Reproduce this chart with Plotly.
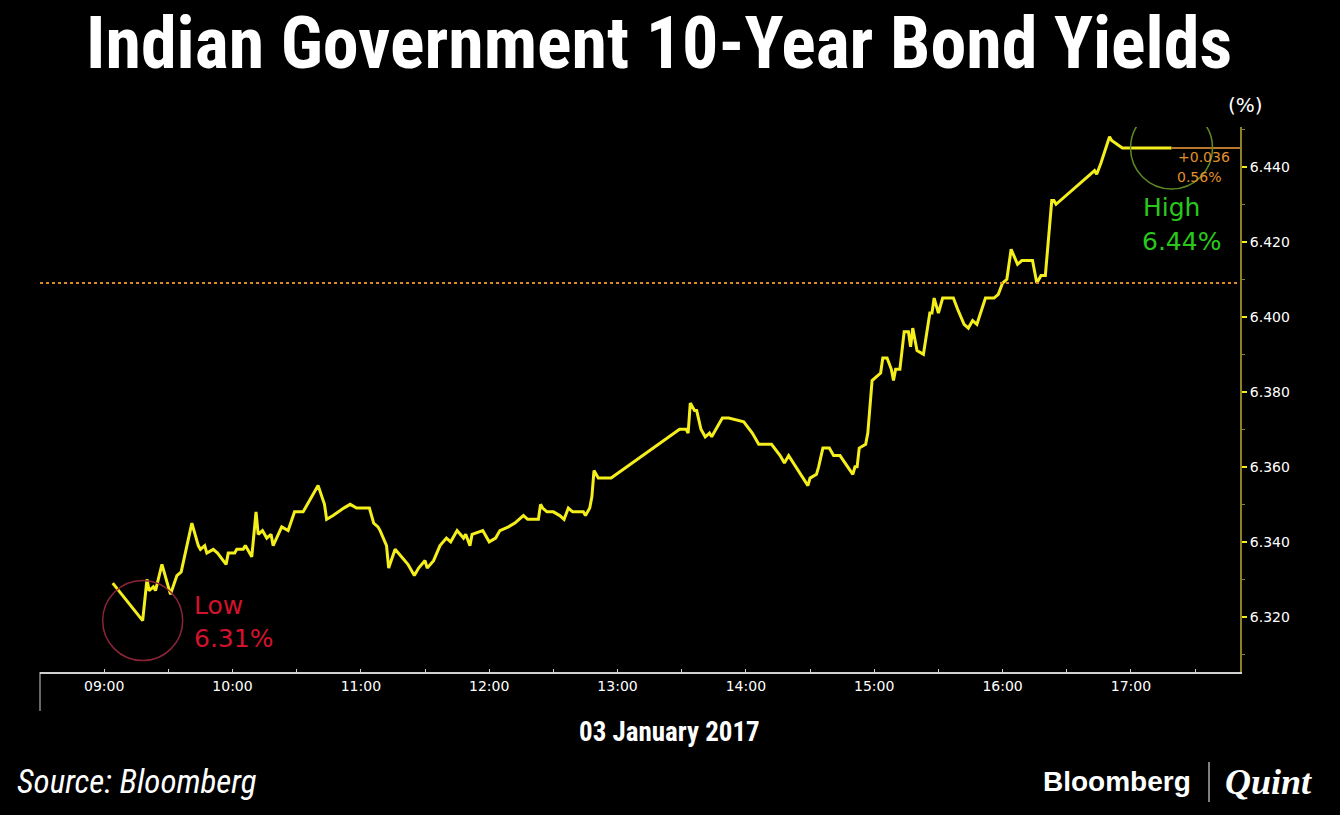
import plotly.graph_objects as go

DAY = "2017-01-03"

times = [
    "09:04", "09:18", "09:20", "09:21", "09:23", "09:24", "09:27", "09:29", "09:31", "09:34",
    "09:36", "09:41", "09:44", "09:45", "09:47", "09:48", "09:51", "09:53", "09:57", "09:58",
    "10:01", "10:02", "10:05", "10:06", "10:09", "10:11", "10:12", "10:14", "10:16", "10:18",
    "10:19", "10:23", "10:26", "10:29", "10:33", "10:40", "10:43", "10:44", "10:47", "10:52",
    "10:55", "10:58", "11:04", "11:06", "11:08", "11:09", "11:12", "11:13", "11:16", "11:19",
    "11:22", "11:25", "11:27", "11:30", "11:31", "11:34", "11:37", "11:40", "11:42", "11:45",
    "11:48", "11:49", "11:51", "11:52", "11:57", "12:00", "12:03", "12:05", "12:09", "12:12",
    "12:16", "12:18", "12:23", "12:24", "12:25", "12:27", "12:30", "12:33", "12:35", "12:37",
    "12:39", "12:44", "12:45", "12:47", "12:48", "12:49", "12:51", "12:57", "13:29", "13:30",
    "13:32", "13:33", "13:34", "13:36", "13:37", "13:39", "13:41", "13:43", "13:44", "13:47",
    "13:49", "13:52", "13:59", "14:03", "14:06", "14:12", "14:16", "14:18", "14:20", "14:29",
    "14:30", "14:33", "14:34", "14:36", "14:39", "14:41", "14:44", "14:50", "14:51", "14:52",
    "14:53", "14:56", "14:57", "14:59", "15:01", "15:03", "15:04", "15:06", "15:08", "15:09",
    "15:10", "15:12", "15:14", "15:16", "15:17", "15:18", "15:20", "15:23", "15:26", "15:27",
    "15:28", "15:30", "15:32", "15:33", "15:37", "15:39", "15:42", "15:44", "15:46", "15:48",
    "15:51", "15:52", "15:56", "15:58", "16:00", "16:02", "16:04", "16:07", "16:09", "16:14",
    "16:16", "16:18", "16:20", "16:23", "16:24", "16:25", "16:41", "16:43", "16:44", "16:46",
    "16:50", "16:51", "16:56", "17:19",
]

yields = [
    6.329, 6.319, 6.330, 6.327, 6.328, 6.327, 6.334, 6.330, 6.326, 6.331,
    6.332, 6.345, 6.339, 6.338, 6.339, 6.337, 6.338, 6.337, 6.334, 6.337,
    6.337, 6.338, 6.338, 6.339, 6.336, 6.348, 6.342, 6.343, 6.341, 6.342,
    6.339, 6.344, 6.343, 6.348, 6.348, 6.355, 6.350, 6.346, 6.347, 6.349,
    6.350, 6.349, 6.349, 6.345, 6.344, 6.343, 6.339, 6.333, 6.338, 6.336,
    6.334, 6.331, 6.333, 6.335, 6.333, 6.335, 6.339, 6.341, 6.340, 6.343,
    6.341, 6.342, 6.339, 6.342, 6.343, 6.340, 6.341, 6.343, 6.344, 6.345,
    6.347, 6.346, 6.346, 6.350, 6.349, 6.348, 6.348, 6.347, 6.346, 6.349,
    6.348, 6.348, 6.347, 6.349, 6.352, 6.359, 6.357, 6.357, 6.370, 6.370,
    6.370, 6.369, 6.377, 6.375, 6.375, 6.370, 6.368, 6.369, 6.368, 6.371,
    6.373, 6.373, 6.372, 6.369, 6.366, 6.366, 6.363, 6.361, 6.363, 6.355,
    6.357, 6.358, 6.360, 6.365, 6.365, 6.363, 6.363, 6.358, 6.360, 6.360,
    6.365, 6.366, 6.369, 6.383, 6.384, 6.385, 6.389, 6.389, 6.386, 6.383,
    6.386, 6.386, 6.396, 6.396, 6.392, 6.397, 6.391, 6.390, 6.401, 6.401,
    6.405, 6.401, 6.405, 6.405, 6.405, 6.402, 6.398, 6.397, 6.399, 6.398,
    6.403, 6.405, 6.405, 6.406, 6.409, 6.410, 6.418, 6.414, 6.415, 6.415,
    6.409, 6.411, 6.411, 6.431, 6.431, 6.430, 6.438, 6.439, 6.438, 6.441,
    6.448, 6.447, 6.445, 6.445,
]

prev_close = 6.409
change_text = ["+0.036", "0.56%"]
low_label = ["Low", "6.31%"]
high_label = ["High", "6.44%"]
y_ticks = [6.320, 6.340, 6.360, 6.380, 6.400, 6.420, 6.440]

x = [f"{DAY} {t}" for t in times]

# plot area in pixels: x 40..1240, y 127..672
W, H = 1340, 815
L, R, T, B = 40, 1240, 127, 672


def px(xp, yp):
    return (xp - L) / (R - L), (B - yp) / (B - T)


COND = "Roboto Condensed, Liberation Sans Narrow, DejaVu Sans Condensed, Roboto, sans-serif"
SANS = "DejaVu Sans, Noto Sans, sans-serif"

fig = go.Figure()
fig.add_trace(go.Scatter(x=x, y=yields, mode="lines",
                         line=dict(color="#f4ee1c", width=3), showlegend=False,
                         hoverinfo="x+y"))

shapes = []
# previous close dotted line
shapes.append(dict(type="line", xref="paper", yref="y", x0=0, x1=1,
                   y0=prev_close, y1=prev_close,
                   line=dict(color="#d98a2b", width=2, dash="dot")))
# last value line extending to axis
shapes.append(dict(type="line", xref="x", yref="y", x0=x[-1], x1=f"{DAY} 17:51",
                   y0=yields[-1], y1=yields[-1],
                   line=dict(color="#b8772a", width=2)))
# low / high circles (pixel sized, anchored to the data)
i_low = yields.index(min(yields))
shapes.append(dict(type="circle", xref="x", yref="y", xsizemode="pixel", ysizemode="pixel",
                   xanchor=x[i_low], yanchor=yields[i_low], x0=-40, x1=40, y0=-40, y1=40,
                   line=dict(color="#8c2438", width=1.5)))
shapes.append(dict(type="circle", xref="x", yref="y", xsizemode="pixel", ysizemode="pixel",
                   xanchor=x[-1], yanchor=yields[-1], x0=-41, x1=41, y0=-41, y1=41,
                   line=dict(color="#5f8a25", width=1.5)))
# vertical tick line below x axis at left
x0p, y0p = px(40, 672)
x1p, y1p = px(40, 711)
shapes.append(dict(type="line", xref="paper", yref="paper", x0=x0p, x1=x1p, y0=y0p, y1=y1p,
                   line=dict(color="#cfcfcf", width=1)))
# logo divider
a, b = px(1209, 762)
c, d = px(1209, 802)
shapes.append(dict(type="line", xref="paper", yref="paper", x0=a, x1=c, y0=b, y1=d,
                   line=dict(color="#ffffff", width=1)))

annotations = []


def note(text, xp, yp, size, color="#ffffff", family=SANS, xanchor="left", **kw):
    xa, ya = px(xp, yp)
    annotations.append(dict(text=text, xref="paper", yref="paper", x=xa, y=ya,
                            xanchor=xanchor, yanchor="middle", showarrow=False,
                            font=dict(size=size, color=color, family=family, **kw)))


note("<b>Indian Government 10-Year Bond Yields</b>", 659, 43, 72, family=COND, xanchor="center")
note("(%)", 1245, 105, 20, xanchor="center")
note(change_text[0], 1176, 157, 14, color="#e0902c")
note(change_text[1], 1175, 177, 14, color="#e0902c")
note(high_label[0], 1141, 208, 25, color="#2ac81c")
note(high_label[1], 1140, 242, 25, color="#2ac81c")
note(low_label[0], 192, 605, 25, color="#d3122c")
note(low_label[1], 192, 638, 25, color="#d3122c")
note("<b>03 January 2017</b>", 669, 732, 27, family=COND, xanchor="center")
note("<i>Source: Bloomberg</i>", 15, 781, 33, family=COND)
note("<b>Bloomberg</b>", 1041, 781, 28, family="Liberation Sans, Arial, sans-serif")
note("<b><i>Quint</i></b>", 1223, 782, 36, family="Liberation Serif, DejaVu Serif, serif")

fig.update_layout(
    width=W, height=H,
    paper_bgcolor="#000000", plot_bgcolor="#000000",
    margin=dict(l=L, r=W - R, t=T, b=H - B),
    shapes=shapes, annotations=annotations,
    showlegend=False,
    xaxis=dict(type="date", range=[f"{DAY} 08:30", f"{DAY} 17:51"],
               tick0=f"{DAY} 09:00", dtick=3600000, tickformat="%H:%M",
               showgrid=False, zeroline=False, showline=True, linecolor="#d0d0d0", linewidth=1.5,
               ticks="inside", ticklen=3, tickcolor="#d0d0d0",
               minor=dict(tick0=f"{DAY} 08:30", dtick=1800000, ticks="inside", ticklen=3,
                          tickcolor="#d0d0d0", showgrid=False),
               tickfont=dict(family=SANS, size=14, color="#ffffff")),
    yaxis=dict(side="right", range=[6.3053, 6.4506], tickvals=y_ticks, tickformat=".3f",
               showgrid=False, zeroline=False, showline=True, linecolor="#8f8224", linewidth=2,
               ticks="outside", ticklen=5, tickwidth=2, tickcolor="#f4ee1c",
               minor=dict(dtick=0.01, tick0=6.31, ticks="outside", ticklen=3, tickwidth=1,
                          tickcolor="#8f8224", showgrid=False),
               tickfont=dict(family=SANS, size=14, color="#ffffff")),
)

# drop the default page margin so the figure sits at the window's top-left corner
fig.write_html("out.html", config={"displayModeBar": False},
               post_script="document.body.style.margin='0';")
